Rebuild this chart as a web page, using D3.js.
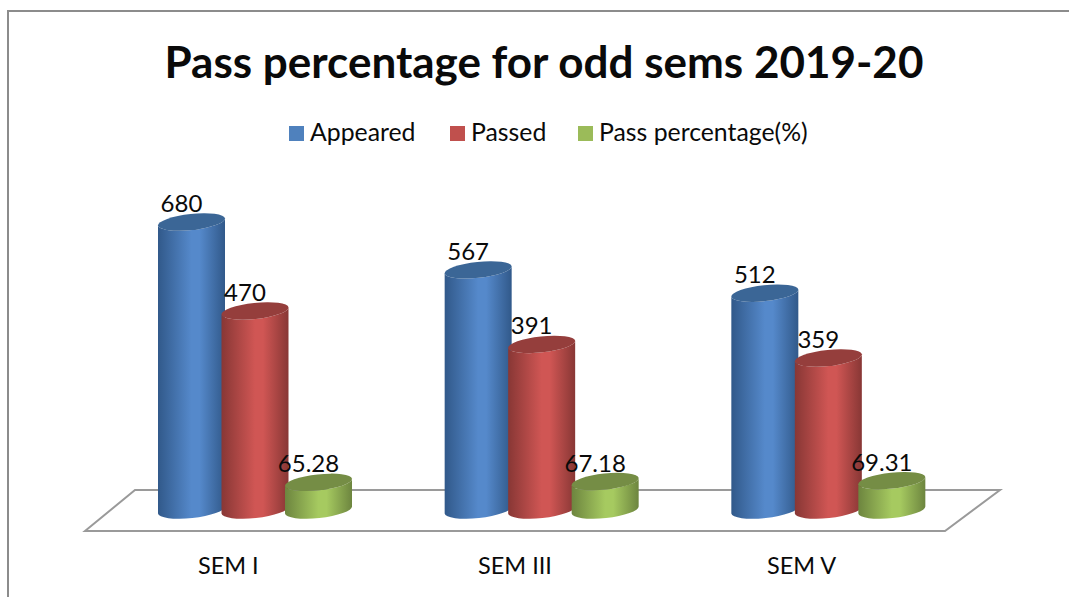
<!DOCTYPE html>
<html>
<head>
<meta charset="utf-8">
<script src="https://cdn.jsdelivr.net/npm/d3@7"></script>
<style>
  html, body { margin: 0; padding: 0; background: #fff; overflow: hidden; }
  text { font-family: Lato, "Open Sans", sans-serif; fill: #0a0a0a; }
</style>
</head>
<body>
<div id="chart"></div>
<script>
// chart values
var categories = ["SEM I", "SEM III", "SEM V"];
var seriesNames = ["Appeared", "Passed", "Pass percentage(%)"];
var appeared = [680, 567, 512];
var passed = [470, 391, 359];
var passPercentage = [65.28, 67.18, 69.31];
var seriesValues = [appeared, passed, passPercentage];
var titleText = "Pass percentage for odd sems 2019-20";

var seriesColors = [
  {swatch: "#4f81bd", edge: "#31598a", mid: "#5589cb", top: "#3b6696"},
  {swatch: "#c0504d", edge: "#883735", mid: "#d05654", top: "#953e3c"},
  {swatch: "#9bbb59", edge: "#6d853f", mid: "#a6ca60", top: "#758d45"}
];

var width = 1069, height = 597;

var svg = d3.select("#chart").append("svg")
  .attr("width", width)
  .attr("height", height);

// gradients for the cylinder sides
var defs = svg.append("defs");
seriesColors.forEach(function(c, i) {
  var grad = defs.append("linearGradient").attr("id", "side" + i);
  grad.append("stop").attr("offset", "0%").attr("stop-color", c.edge);
  grad.append("stop").attr("offset", "50%").attr("stop-color", c.mid);
  grad.append("stop").attr("offset", "62%").attr("stop-color", c.mid);
  grad.append("stop").attr("offset", "100%").attr("stop-color", c.edge);
});

// outer frame, the page crop leaves only the left and top edges
svg.append("path")
  .attr("d", "M8,597V11H1069")
  .attr("fill", "none")
  .attr("stroke", "#8c8c8c")
  .attr("stroke-width", 2);

// title
svg.append("text")
  .attr("x", 544)
  .attr("y", 78)
  .attr("text-anchor", "middle")
  .attr("font-size", 44)
  .attr("font-weight", 700)
  .text(titleText);

// legend
var legendX = [289, 450, 578];
var legend = svg.append("g").selectAll("g")
  .data(seriesNames)
  .join("g")
  .attr("transform", function(d, i) { return "translate(" + legendX[i] + ",126)"; });
legend.append("rect")
  .attr("width", 15)
  .attr("height", 15)
  .attr("fill", function(d, i) { return seriesColors[i].swatch; });
legend.append("text")
  .attr("x", 21)
  .attr("y", 15)
  .attr("font-size", 24.8)
  .text(function(d) { return d; });

// scales
var y = d3.scaleLinear().domain([0, 680]).range([510, 222]);
var x0 = d3.scaleBand().domain(categories).range([85, 945]);
// bars sit towards the back of the floor so they are shifted from the band start
var x1 = d3.scaleBand().domain(seriesNames).range([73, 263.5]);
var barW = x1.bandwidth() + 3.5;
var tilt = 3.6; // half of the vertical drop across the ellipse
var rx = Math.sqrt(barW * barW / 4 + tilt * tilt);
var ry = 8;
var angle = -Math.atan2(tilt, barW / 2) * 180 / Math.PI;

// floor
var floorBack = 490, floorFront = 531;
svg.append("path")
  .attr("d", "M" + x0.range()[0] + "," + floorFront +
             "L135," + floorBack + "H1000L" + x0.range()[1] + "," + floorFront + "Z")
  .attr("fill", "#fff")
  .attr("stroke", "#9a9a9a")
  .attr("stroke-width", 2);

// category labels
svg.append("g").selectAll("text")
  .data(categories)
  .join("text")
  .attr("x", function(d) { return x0(d) + x0.bandwidth() / 2; })
  .attr("y", 574)
  .attr("text-anchor", "middle")
  .attr("font-size", 23.5)
  .text(function(d) { return d; });

function arc(sweep) {
  return "A" + rx + "," + ry + " " + angle + " 0 " + sweep + " ";
}

// cylinders, drawn group by group
var cells = [];
categories.forEach(function(cat, c) {
  seriesNames.forEach(function(name, s) {
    cells.push({cat: cat, name: name, s: s, value: seriesValues[s][c]});
  });
});

var bars = svg.append("g").selectAll("g")
  .data(cells)
  .join("g");

bars.append("path")
  .attr("fill", function(d) { return "url(#side" + d.s + ")"; })
  .attr("d", function(d) {
    var left = x0(d.cat) + x1(d.name), right = left + barW;
    var top = y(d.value), base = y(0);
    return "M" + left + "," + (top + tilt) +
      "L" + left + "," + (base + tilt) +
      arc(0) + right + "," + (base - tilt) +
      "L" + right + "," + (top - tilt) +
      arc(1) + left + "," + (top + tilt) + "Z";
  });

bars.append("ellipse")
  .attr("fill", function(d) { return seriesColors[d.s].top; })
  .attr("rx", rx)
  .attr("ry", ry)
  .attr("transform", function(d) {
    var cx = x0(d.cat) + x1(d.name) + barW / 2;
    return "translate(" + cx + "," + y(d.value) + ")rotate(" + angle + ")";
  });

// value labels go on top of everything
svg.append("g").selectAll("text")
  .data(cells)
  .join("text")
  .attr("x", function(d) { return x0(d.cat) + x1(d.name) + barW / 2 - 10; })
  .attr("y", function(d) { return y(d.value) - 10; })
  .attr("text-anchor", "middle")
  .attr("font-size", 24)
  .text(function(d) { return d.value; });
</script>
</body>
</html>
